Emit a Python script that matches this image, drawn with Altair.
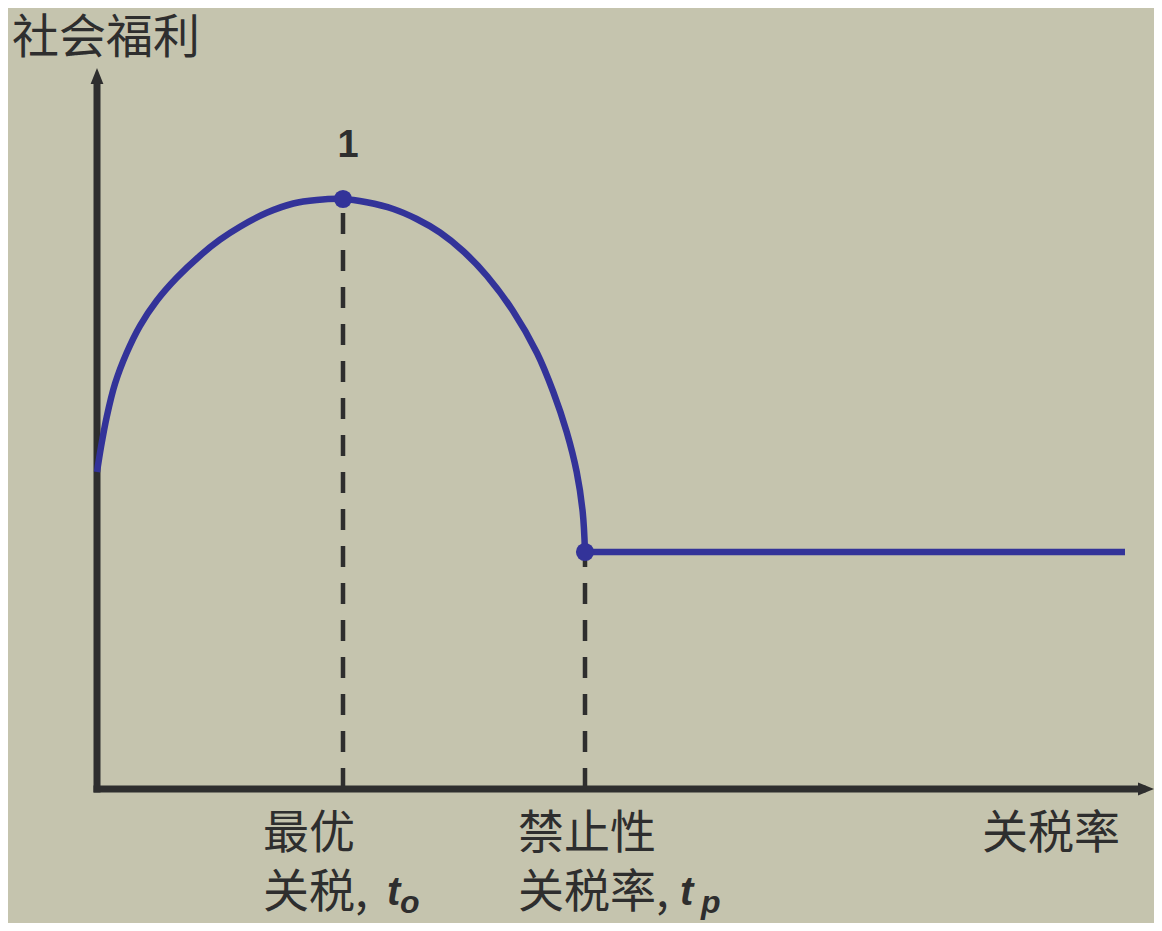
import altair as alt
import pandas as pd

# ---- data (units: x = tariff rate, y = social welfare) ----
curve_x = [0.00, 0.04, 0.097, 0.18, 0.297, 0.43, 0.597, 0.797, 1.03, 1.23,
           1.43, 1.697, 1.963, 2.197, 2.46, 2.697, 2.963, 3.197, 3.43, 3.66,
           3.90, 4.16, 4.40, 4.563, 4.697, 4.797, 4.857, 4.88]
curve_y = [3.17, 3.42, 3.72, 4.052, 4.362, 4.632, 4.882, 5.112, 5.333, 5.493,
           5.623, 5.762, 5.855, 5.89, 5.90, 5.867, 5.80, 5.70, 5.565, 5.38,
           5.13, 4.78, 4.36, 3.97, 3.57, 3.17, 2.77, 2.37]
flat_x = [4.88, 10.28]
flat_y = [2.37, 2.37]
key_x = [2.46, 4.88]          # optimal tariff t_o, prohibitive tariff t_p
key_y = [5.90, 2.37]

X_DOM = [-0.89, 10.57]
Y_DOM = [-1.34, 7.81]

BG = "#c5c4ae"
INK = "#2e2e2e"
BLUE = "#333399"
CJK = "Noto Sans CJK SC"
LAT = "Liberation Sans"

xs = alt.Scale(domain=X_DOM, nice=False, zero=False)
ys = alt.Scale(domain=Y_DOM, nice=False, zero=False)

def X(f="x"):
    return alt.X(f"{f}:Q", scale=xs, axis=None)

def Y(f="y"):
    return alt.Y(f"{f}:Q", scale=ys, axis=None)

curve_df = pd.DataFrame({"x": curve_x, "y": curve_y, "i": list(range(len(curve_x)))})
flat_df = pd.DataFrame({"x": flat_x, "y": flat_y})
key_df = pd.DataFrame({"x": key_x, "y": key_y})
drop_df = pd.DataFrame({"x": key_x, "y": [0, 0], "y2": key_y})

axes_df = pd.DataFrame({"x": [0.0, 0.0], "y": [0.0, 0.0],
                        "x2": [0.0, 10.45], "y2": [7.06, 0.0]})

axes = alt.Chart(axes_df).mark_rule(color=INK, strokeWidth=7, strokeCap="square").encode(
    x=X(), y=Y(), x2="x2:Q", y2="y2:Q")

arrow_up = alt.Chart(pd.DataFrame({"x": [0.0], "y": [7.13]})).mark_point(
    shape="M0,-1L0.8,1L-0.8,1Z", filled=True, color=INK, opacity=1, size=256,
    strokeWidth=0).encode(x=X(), y=Y())
arrow_right = alt.Chart(pd.DataFrame({"x": [10.49], "y": [0.0]})).mark_point(
    shape="M1,0L-1,-0.8L-1,0.8Z", filled=True, color=INK, opacity=1, size=256,
    strokeWidth=0).encode(x=X(), y=Y())

drops = alt.Chart(drop_df).mark_rule(color=INK, strokeWidth=4.5, strokeDash=[21, 16]).encode(
    x=X(), y=Y(), y2="y2:Q")

curve = alt.Chart(curve_df).mark_line(color=BLUE, strokeWidth=6.5, interpolate="catmull-rom").encode(
    x=X(), y=Y(), order="i:Q")
flat = alt.Chart(flat_df).mark_line(color=BLUE, strokeWidth=6.5).encode(x=X(), y=Y())
dots = alt.Chart(key_df).mark_circle(color=BLUE, size=330, opacity=1).encode(x=X(), y=Y())

# ---- labels ----
cjk_df = pd.DataFrame({
    "x": [0.09, 1.66, 1.66, 4.21, 4.21, 8.85],
    "y": [7.50, -0.45, -1.04, -0.45, -1.04, -0.45],
    "t": ["社会福利", "最优", "关税,", "禁止性", "关税率,", "关税率"],
    "a": ["center", "left", "left", "left", "left", "left"],
})
cjk_c = alt.Chart(cjk_df[cjk_df.a == "center"]).mark_text(
    font=CJK, fontSize=47, color=INK, align="center", baseline="middle").encode(
    x=X(), y=Y(), text="t:N")
cjk_l = alt.Chart(cjk_df[cjk_df.a == "left"]).mark_text(
    font=CJK, fontSize=46, color=INK, align="left", baseline="middle").encode(
    x=X(), y=Y(), text="t:N")

one = alt.Chart(pd.DataFrame({"x": [2.51], "y": [6.43], "t": ["1"]})).mark_text(
    font=LAT, fontSize=38, fontWeight="bold", color=INK, align="center",
    baseline="middle").encode(x=X(), y=Y(), text="t:N")

t_df = pd.DataFrame({"x": [2.90, 5.83], "y": [-1.04, -1.04], "t": ["t", "t"]})
tt = alt.Chart(t_df).mark_text(
    font=LAT, fontSize=40, fontWeight="bold", fontStyle="italic", color=INK,
    align="left", baseline="middle").encode(x=X(), y=Y(), text="t:N")
sub_df = pd.DataFrame({"x": [3.03, 6.04], "y": [-1.14, -1.14], "t": ["o", "p"]})
sub = alt.Chart(sub_df).mark_text(
    font=LAT, fontSize=32, fontWeight="bold", fontStyle="italic", color=INK,
    align="left", baseline="middle").encode(x=X(), y=Y(), text="t:N")

chart = alt.layer(
    drops, axes, arrow_up, arrow_right, curve, flat, dots,
    cjk_c, cjk_l, one, tt, sub
).properties(
    width=1146, height=915,
    autosize=alt.AutoSizeParams(type="none"),
    padding=0, background=BG,
).configure_view(stroke=None)

chart.save("out.html", embed_options={"renderer": "svg", "actions": False})
